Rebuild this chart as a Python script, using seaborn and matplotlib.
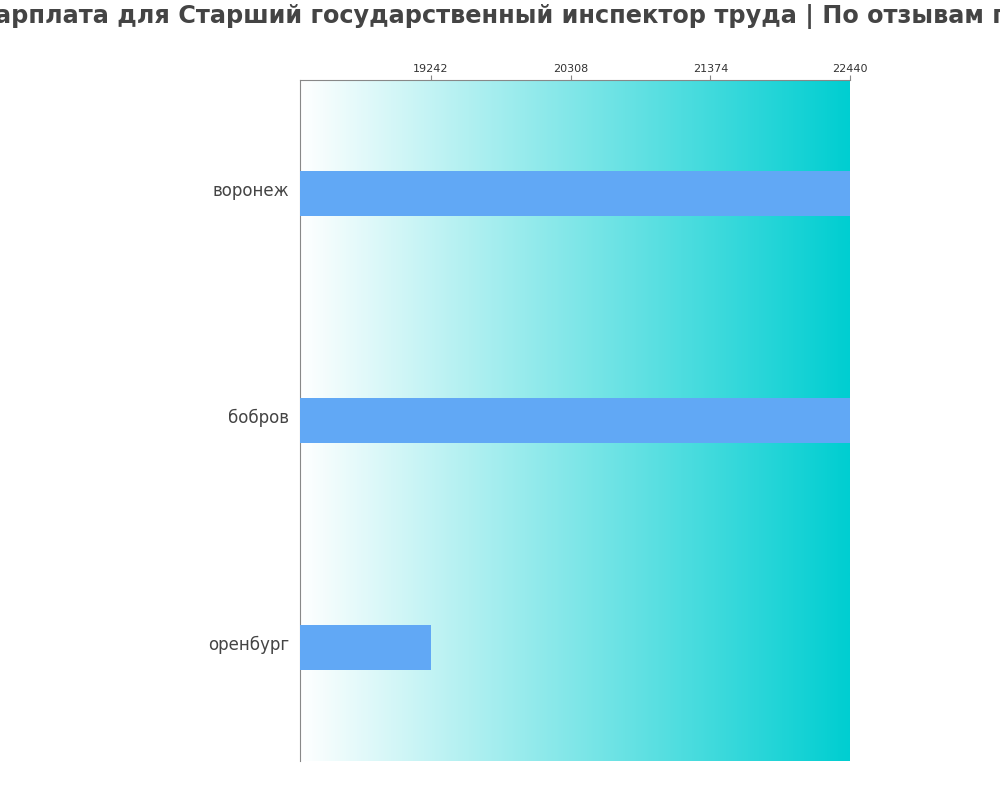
import numpy as np
import matplotlib
matplotlib.use("Agg")
import matplotlib.pyplot as plt
import matplotlib.transforms as mtransforms
import seaborn as sns
from matplotlib.colors import LinearSegmentedColormap

cities = ["воронеж", "бобров", "оренбург"]
salaries = [22440, 22440, 19242]
tick_values = [19242, 20308, 21374, 22440]
title = "Зарплата для Старший государственный инспектор труда | По отзывам пользователей"

sns.set_style("white")
plt.rcParams['font.family'] = ['DejaVu Sans']

fig = plt.figure(figsize=(10, 8), dpi=100)
ax = fig.add_axes([0.3, 0.04875, 0.55, 0.85125])

sns.barplot(x=salaries, y=cities, orient="h", color="#61A8F5", width=0.2,
            saturation=1, ax=ax, zorder=3, linewidth=0, edgecolor="none")

xmin, xmax = 18242, 22440
ax.set_xlim(xmin, xmax)
ax.set_ylim(2.5, -0.5)

cmap = LinearSegmentedColormap.from_list("g", ["#ffffff", "#00CED1"])
grad = np.linspace(0, 1, 256).reshape(1, -1)
ax.imshow(grad, cmap=cmap, aspect="auto", extent=[xmin, xmax, 2.5, -0.5],
          zorder=0, interpolation="bilinear")

ax.xaxis.tick_top()
ax.set_xticks(tick_values)
ax.set_xticklabels([str(v) for v in tick_values])
ax.tick_params(axis="x", labelsize=8, labelcolor="#333333", length=3.5, width=0.8,
               top=True, bottom=False, pad=0.5, color="#888888")
ax.tick_params(axis="y", labelsize=12, labelcolor="#444444", length=0, pad=8)
offset = mtransforms.ScaledTranslation(0, 3 / 100, fig.dpi_scale_trans)
for lbl in ax.get_yticklabels():
    lbl.set_verticalalignment("center")
    lbl.set_transform(lbl.get_transform() + offset)
ax.set_xlabel("")
ax.set_ylabel("")

for s in ["right", "bottom"]:
    ax.spines[s].set_visible(False)
for s in ["top", "left"]:
    ax.spines[s].set_visible(True)
    ax.spines[s].set_color("#888888")
    ax.spines[s].set_linewidth(0.8)

ax.set_title(title, fontsize=17.3, fontweight="bold", color="#444444", pad=41,
             x=0.525)

fig.savefig("out.png", dpi=100)
